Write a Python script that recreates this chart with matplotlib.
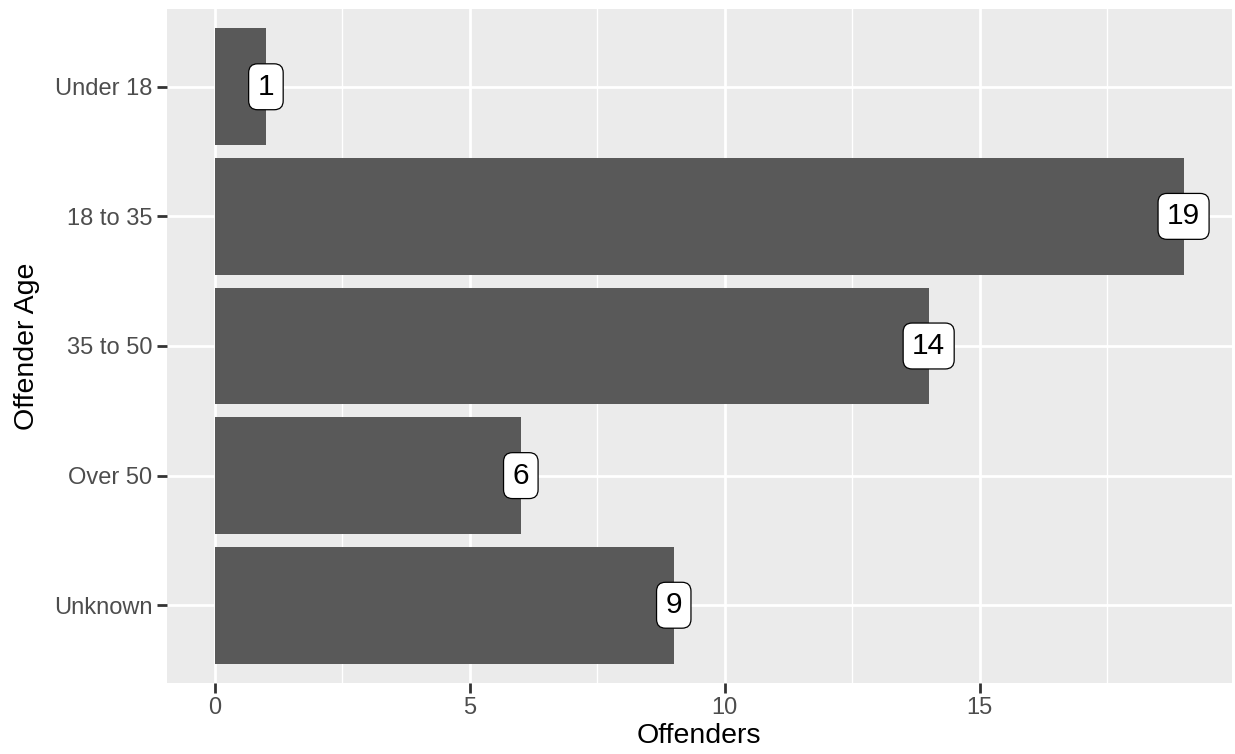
import matplotlib
matplotlib.use("Agg")
import matplotlib.pyplot as plt

ages = ["Under 18", "18 to 35", "35 to 50", "Over 50", "Unknown"]
offenders = [1, 19, 14, 6, 9]

plt.rcParams['font.family'] = ['Liberation Sans', 'DejaVu Sans']

fig = plt.figure(figsize=(12.35, 7.54), dpi=100)
ax = fig.add_axes([166.5/1235, 1-683/754, (1232-166.5)/1235, (683-9)/754])
ax.set_facecolor('#EBEBEB')

pos = list(range(len(ages)))
ax.barh(pos, offenders, height=0.9, color='#595959', zorder=3)

for p, v in zip(pos, offenders):
    ax.text(v, p, str(v), ha='center', va='center', fontsize=21.5, color='black', zorder=5,
            bbox=dict(boxstyle='round,pad=0.3,rounding_size=0.3', fc='white', ec='black', lw=0.9))

ax.set_xlim(-0.95, 19.95)
ax.set_ylim(len(ages) - 1 + 0.6, -0.6)
ax.set_xticks([0, 5, 10, 15])
ax.set_xticks([2.5, 7.5, 12.5, 17.5], minor=True)
ax.set_yticks(pos)
ax.set_yticklabels(ages)

ax.grid(which='major', color='white', lw=2.0, zorder=1)
ax.grid(which='minor', axis='x', color='white', lw=1.0, zorder=1)
for s in ax.spines.values():
    s.set_visible(False)
ax.tick_params(which='major', length=7, width=2, color='#333333', labelsize=17,
               labelcolor='#4D4D4D', pad=3)
ax.tick_params(which='minor', length=0)

ax.set_xlabel("Offenders", fontsize=20.5, color='black', labelpad=3)
ax.set_ylabel("Offender Age", fontsize=20.5, color='black', labelpad=10)

fig.savefig("out.png", dpi=100, facecolor='white')
